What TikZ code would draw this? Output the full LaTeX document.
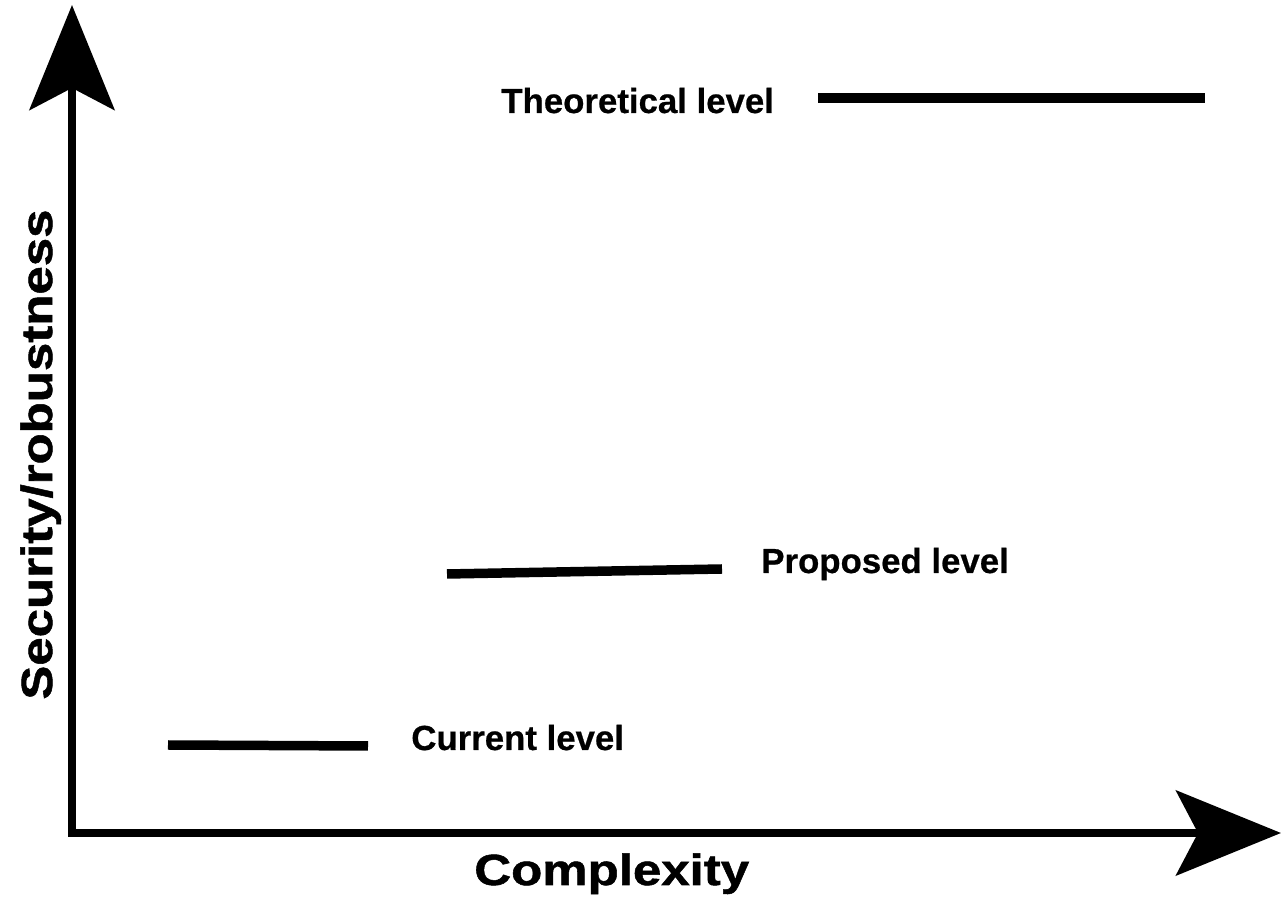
\documentclass[tikz,border=0pt]{standalone}
\usepackage{fontspec}
\setmainfont{Liberation Sans}
\newfontfamily\axisfont[FakeStretch=1.17, FakeBold=1.2]{Liberation Sans}
\newfontfamily\levelfont[FakeBold=0.6]{Liberation Sans}
\usetikzlibrary{arrows.meta}

\begin{document}
\begin{tikzpicture}[x=0.02cm, y=0.02cm]
        % Common styles
        \tikzstyle{axis}=[line width=0.16cm, {Stealth[length=2.1cm, width=1.7cm, inset=0.44cm]}-{Stealth[length=2.1cm, width=1.7cm, inset=0.44cm]}]
        \tikzstyle{level}=[line width=0.19cm]
        \tikzstyle{levellabel}=[anchor=base west, inner sep=0pt, font=\levelfont\fontsize{19.8pt}{22pt}\selectfont\bfseries]
        \tikzstyle{axislabel}=[anchor=base west, inner sep=0pt, font=\axisfont\fontsize{24.8pt}{28pt}\selectfont\bfseries]

        \useasboundingbox (0,0) rectangle (1285,906);

        % --- Axes ---
        \coordinate (O) at (72,73);
        \coordinate (ytip) at (72,901);
        \coordinate (xtip) at (1281,73);
        \draw[axis] (ytip) -- (O) -- (xtip);
        \node[axislabel] (xlab) at (474,21) {Complexity};
        \node[axislabel, rotate=90] (ylab) at (52,206) {Security/robustness};

        % --- Theoretical level ---
        \coordinate (theo-a) at (818,808);
        \coordinate (theo-b) at (1205,808);
        \draw[level] (theo-a) -- (theo-b);
        \node[levellabel] (theo) at (501,793) {Theoretical level};

        % --- Proposed level ---
        \coordinate (prop-a) at (447,332);
        \coordinate (prop-b) at (722,337);
        \draw[level] (prop-a) -- (prop-b);
        \node[levellabel] (prop) at (761,333) {Proposed level};

        % --- Current level ---
        \coordinate (curr-a) at (168,161);
        \coordinate (curr-b) at (368,160);
        \draw[level] (curr-a) -- (curr-b);
        \node[levellabel] (curr) at (411,156) {Current level};

    \end{tikzpicture}
\end{document}
